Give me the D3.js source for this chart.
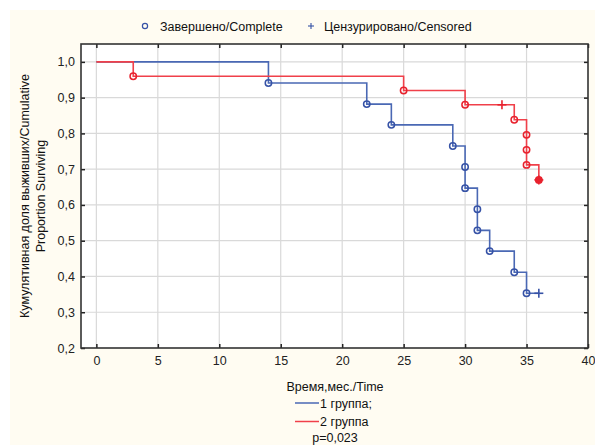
<!DOCTYPE html>
<html>
<head>
<meta charset="utf-8">
<script src="https://cdn.jsdelivr.net/npm/d3@7"></script>
<style>
  html, body { margin: 0; padding: 0; background: #ffffff; }
  svg { display: block; font-family: "Liberation Sans", Arial, sans-serif; }
</style>
</head>
<body>
<svg id="chart" width="595" height="445"></svg>
<script>
// ---- data ----
const xTicks = [0, 5, 10, 15, 20, 25, 30, 35, 40];
const yTicks = [0.2, 0.3, 0.4, 0.5, 0.6, 0.7, 0.8, 0.9, 1.0];

// Group 1 (blue): event times and survival after each event
const g1Times = [0, 14, 22, 24, 29, 30, 30, 31, 31, 32, 34, 35];
const g1Surv  = [1.0, 0.941, 0.882, 0.824, 0.765, 0.706, 0.647, 0.588, 0.529, 0.471, 0.412, 0.353];
const g1CensTimes = [36];
const g1CensSurv  = [0.353];

// Group 2 (red)
const g2Times = [0, 3, 25, 30, 34, 35, 35, 35, 36];
const g2Surv  = [1.0, 0.96, 0.92, 0.88, 0.838, 0.796, 0.754, 0.712, 0.670];
const g2CensTimes = [33, 36];
const g2CensSurv  = [0.88, 0.670];

const groupNames = ["1 группа;", "2 группа"];
const pValue = "p=0,023";

// ---- layout ----
const svg = d3.select("#chart");
const W = 595, H = 445;
const L = 81, R = 588, T = 44, B = 348;
const FS = "12.5px";
const blueLine = "#4a68b4", blueMark = "#3652a6";
const redLine = "#f0404a", redMark = "#e8222e";

svg.append("rect").attr("x", 10).attr("y", 10).attr("width", W - 10).attr("height", H - 10)
  .attr("fill", "#fffcf2");

const x = d3.scaleLinear().domain([-1.25, 40]).range([L, R]);
const y = d3.scaleLinear().domain([0.2, 1.05]).range([B, T]);

svg.append("rect").attr("x", L).attr("y", T).attr("width", R - L).attr("height", B - T)
  .attr("fill", "#ffffff");

// grid
const grid = svg.append("g");
grid.selectAll("line.gx").data(xTicks.filter(d => d < 40)).enter().append("line")
  .attr("x1", d => x(d)).attr("x2", d => x(d)).attr("y1", T).attr("y2", B)
  .attr("stroke", "#d9d9d9").attr("stroke-width", 1.2);
grid.selectAll("line.gy").data(yTicks.filter(d => d > 0.2)).enter().append("line")
  .attr("y1", d => y(d)).attr("y2", d => y(d)).attr("x1", L).attr("x2", R)
  .attr("stroke", "#d9d9d9").attr("stroke-width", 1.2);

// axes (ticks inward)
const fmt = d => d.toFixed(1).replace(".", ",");
const axB = svg.append("g").attr("transform", `translate(0,${B})`)
  .call(d3.axisBottom(x).tickValues(xTicks).tickSize(-4).tickPadding(8).tickFormat(d3.format("d")));
const axT = svg.append("g").attr("transform", `translate(0,${T})`)
  .call(d3.axisTop(x).tickValues(xTicks).tickSize(-4).tickFormat(""));
const axL = svg.append("g").attr("transform", `translate(${L},0)`)
  .call(d3.axisLeft(y).tickValues(yTicks).tickSize(-4).tickPadding(6).tickFormat(fmt));
const axR = svg.append("g").attr("transform", `translate(${R},0)`)
  .call(d3.axisRight(y).tickValues(yTicks).tickSize(-4).tickFormat(""));
[axB, axT, axL, axR].forEach(a => {
  a.select(".domain").remove();
  a.selectAll(".tick line").attr("stroke", "#222").attr("stroke-width", 1.5);
  a.selectAll("text").attr("fill", "#222").style("font-size", FS)
    .style("font-family", "'Liberation Sans', Arial, sans-serif");
});

// frame
svg.append("rect").attr("x", L).attr("y", T).attr("width", R - L).attr("height", B - T)
  .attr("fill", "none").attr("stroke", "#333").attr("stroke-width", 1.6);

// curves
const line = d3.line().x(d => x(d[0])).y(d => y(d[1])).curve(d3.curveStepAfter);
function drawGroup(times, surv, cT, cS, lc, mc) {
  const pts = times.map((t, i) => [t, surv[i]]);
  const cp = cT.map((t, i) => [t, cS[i]]);
  const last = cp[cp.length - 1];
  const linePts = last[0] > pts[pts.length - 1][0] ? pts.concat([last]) : pts;
  svg.append("path").datum(linePts).attr("d", line)
    .attr("fill", "none").attr("stroke", lc).attr("stroke-width", 1.6);
  const coincide = d => cp.some(c => c[0] === d[0] && c[1] === d[1]);
  svg.selectAll(null).data(pts.slice(1)).enter().append("circle")
    .attr("cx", d => x(d[0])).attr("cy", d => y(d[1])).attr("r", 3.2)
    .attr("fill", d => coincide(d) ? mc : "none").attr("stroke", mc).attr("stroke-width", 1.5);
  const g = svg.selectAll(null).data(cp).enter().append("g")
    .attr("transform", d => `translate(${x(d[0])},${y(d[1])})`);
  g.append("line").attr("x1", -4.5).attr("x2", 4.5).attr("stroke", mc).attr("stroke-width", 1.6);
  g.append("line").attr("y1", -4.5).attr("y2", 4.5).attr("stroke", mc).attr("stroke-width", 1.6);
}
drawGroup(g1Times, g1Surv, g1CensTimes, g1CensSurv, blueLine, blueMark);
drawGroup(g2Times, g2Surv, g2CensTimes, g2CensSurv, redLine, redMark);

// top legend
const tl = svg.append("g").style("font-size", FS).attr("fill", "#111");
tl.append("circle").attr("cx", 145).attr("cy", 26).attr("r", 2.6)
  .attr("fill", "none").attr("stroke", blueMark).attr("stroke-width", 1.2);
tl.append("text").attr("x", 160).attr("y", 30.5).text("Завершено/Complete");
tl.append("line").attr("x1", 308).attr("x2", 314).attr("y1", 26).attr("y2", 26).attr("stroke", blueMark).attr("stroke-width", 1.1);
tl.append("line").attr("x1", 311).attr("x2", 311).attr("y1", 23).attr("y2", 29).attr("stroke", blueMark).attr("stroke-width", 1.1);
tl.append("text").attr("x", 324).attr("y", 30.5).text("Цензурировано/Censored");

// axis titles
svg.append("text").attr("x", 335).attr("y", 391).attr("text-anchor", "middle")
  .style("font-size", FS).attr("fill", "#111").text("Время,мес./Time");
const yt = svg.append("text").attr("transform", `translate(29,${(T + B) / 2}) rotate(-90)`)
  .attr("text-anchor", "middle").style("font-size", FS).attr("fill", "#111");
yt.append("tspan").attr("x", 0).attr("dy", 0).text("Кумулятивная доля выживших/Cumulative");
yt.append("tspan").attr("x", 0).attr("dy", 16).text("Proportion Surviving");

// bottom legend
const colors = [blueLine, redLine];
groupNames.forEach((n, i) => {
  const yy = 403 + i * 18.5;
  svg.append("line").attr("x1", 295).attr("x2", 319).attr("y1", yy).attr("y2", yy)
    .attr("stroke", colors[i]).attr("stroke-width", 1.5);
  svg.append("text").attr("x", 320).attr("y", yy + 4.5).style("font-size", FS)
    .attr("fill", "#111").text(n);
});
svg.append("text").attr("x", 335).attr("y", 442).attr("text-anchor", "middle")
  .style("font-size", FS).attr("fill", "#111").text(pValue);
</script>
</body>
</html>
